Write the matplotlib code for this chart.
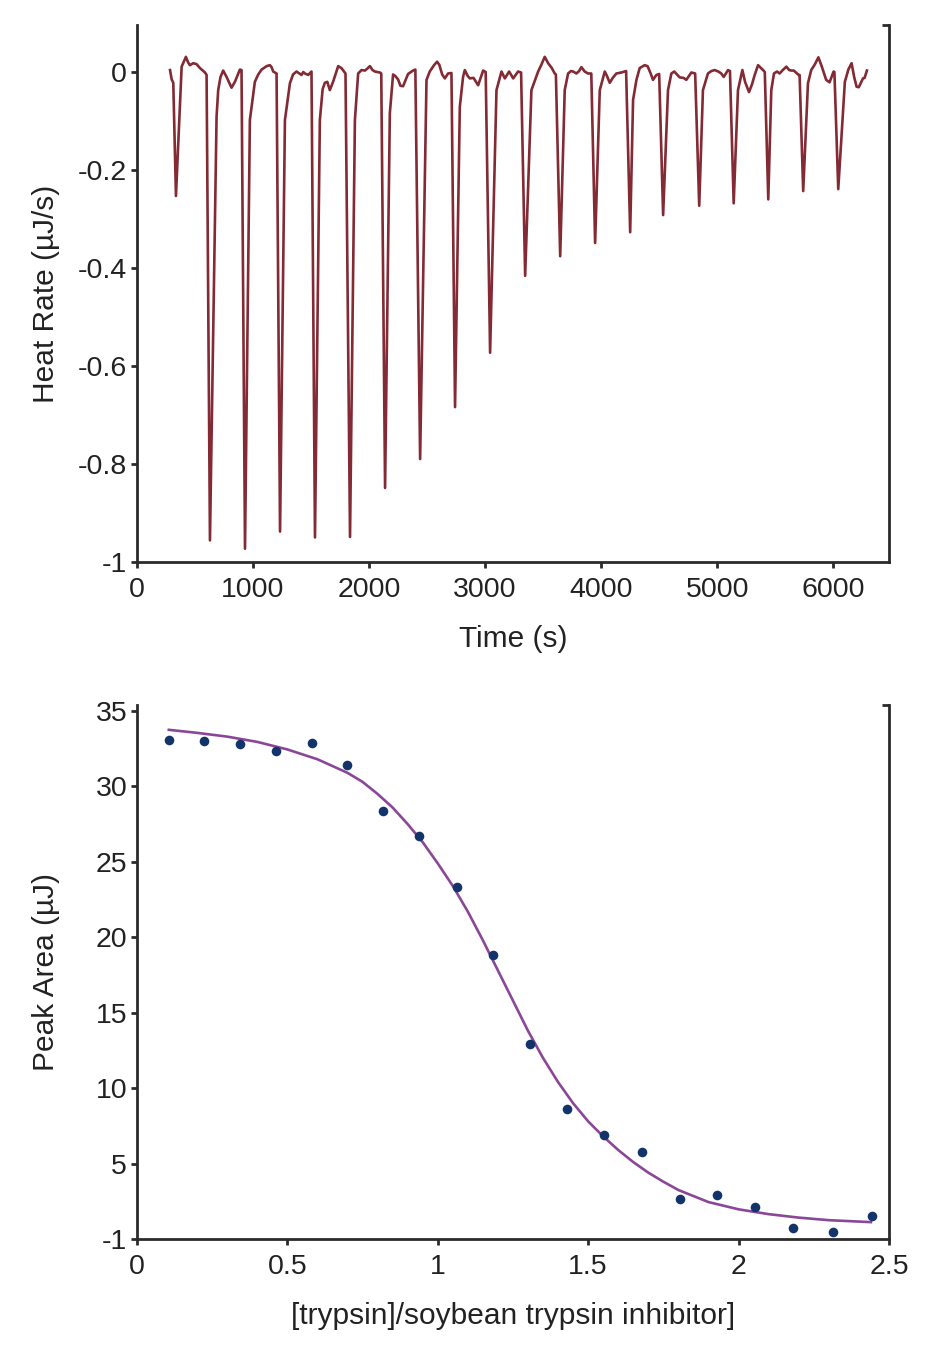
import numpy as np
import matplotlib
matplotlib.use('Agg')
import matplotlib.pyplot as plt

## ITC raw trace (time in s, heat rate in uJ/s)
trace_time = [285, 299, 313, 336, 385, 422, 440, 456, 485, 514, 543, 586, 600,
              629, 686, 700, 720, 743, 772, 815, 844, 887, 901,
              931, 973, 1016, 1045, 1074, 1117, 1145, 1160, 1174, 1203,
              1233, 1275, 1318, 1345, 1375, 1418, 1433, 1447, 1476, 1504,
              1534, 1576, 1600, 1619, 1640, 1662, 1690, 1734, 1762, 1797,
              1836, 1878, 1906, 1935, 1965, 1990, 2007, 2030, 2050, 2093, 2105,
              2138, 2179, 2207, 2225, 2250, 2270, 2293, 2336, 2379, 2399,
              2440, 2495, 2523, 2560, 2586, 2605, 2630, 2653, 2681, 2710,
              2741, 2782, 2810, 2825, 2850, 2868, 2900, 2940, 2983, 3005,
              3043, 3098, 3141, 3170, 3207, 3242, 3284, 3310,
              3345, 3399, 3440, 3457, 3485, 3514, 3543, 3575, 3600, 3610,
              3647, 3686, 3715, 3740, 3758, 3787, 3810, 3830, 3858, 3887, 3915,
              3948, 3988, 4031, 4050, 4074, 4100, 4131, 4174, 4215,
              4250, 4275, 4304, 4332, 4375, 4400, 4425, 4447, 4476, 4500,
              4534, 4576, 4605, 4630, 4650, 4677, 4710, 4734, 4777, 4810,
              4845, 4877, 4920, 4950, 4978, 5010, 5035, 5056, 5093, 5110,
              5142, 5179, 5217, 5240, 5274, 5300, 5323, 5352, 5395, 5410,
              5440, 5466, 5489, 5515, 5538, 5565, 5596, 5620, 5639, 5660, 5702, 5710,
              5741, 5782, 5810, 5840, 5872, 5900, 5939, 5968, 6003, 6010,
              6043, 6100, 6130, 6158, 6180, 6201, 6220, 6256, 6270, 6290]
trace_rate = [0.004, -0.015, -0.022, -0.253, 0.011, 0.031, 0.020, 0.014, 0.018, 0.016, 0.008, -0.001, -0.006,
              -0.956, -0.091, -0.037, -0.010, 0.003, -0.010, -0.032, -0.020, 0.005, 0.004,
              -0.973, -0.098, -0.020, -0.005, 0.005, 0.012, 0.014, 0.010, 0.001, -0.003,
              -0.938, -0.098, -0.023, -0.005, 0.001, -0.006, 0.000, -0.003, -0.006, 0.001,
              -0.950, -0.098, -0.035, -0.022, -0.020, -0.037, -0.020, 0.012, 0.008, -0.003,
              -0.949, -0.098, -0.003, 0.004, 0.003, 0.008, 0.012, 0.004, 0.001, -0.001, -0.003,
              -0.849, -0.084, -0.005, -0.008, -0.015, -0.028, -0.029, -0.004, 0.003, 0.005,
              -0.790, -0.016, 0.001, 0.014, 0.021, 0.015, -0.005, -0.013, -0.003, -0.002,
              -0.684, -0.071, -0.010, 0.004, -0.008, -0.013, -0.012, -0.027, 0.003, 0.000,
              -0.573, -0.037, 0.001, -0.013, 0.001, -0.013, 0.001, -0.001,
              -0.416, -0.037, -0.010, 0.001, 0.015, 0.031, 0.018, 0.008, -0.003, -0.005,
              -0.376, -0.037, -0.003, 0.002, 0.001, -0.003, 0.002, 0.010, 0.001, -0.003, -0.003,
              -0.349, -0.037, 0.001, -0.008, -0.022, -0.012, -0.003, -0.001, 0.002,
              -0.327, -0.057, -0.016, 0.008, 0.014, 0.012, -0.002, -0.016, -0.006, -0.004,
              -0.292, -0.037, -0.003, 0.001, -0.004, -0.011, -0.012, -0.016, -0.001, -0.003,
              -0.273, -0.037, -0.003, 0.002, 0.004, 0.001, -0.003, -0.010, 0.004, 0.002,
              -0.268, -0.037, 0.004, -0.020, -0.041, -0.025, -0.006, 0.014, 0.004, 0.000,
              -0.260, -0.037, -0.003, 0.001, -0.003, 0.004, 0.011, 0.004, 0.003, 0.003, -0.006, -0.006,
              -0.243, -0.023, 0.004, 0.015, 0.030, 0.012, -0.016, -0.021, 0.001, 0.000,
              -0.239, -0.020, 0.005, 0.018, -0.010, -0.030, -0.031, -0.013, -0.012, 0.003]

## integrated peaks
ratio = [0.106, 0.224, 0.342, 0.462, 0.582, 0.699, 0.818, 0.938, 1.063, 1.183,
         1.307, 1.430, 1.553, 1.679, 1.805, 1.928, 2.055, 2.181, 2.314, 2.443]
peak_area = [33.1, 33.0, 32.8, 32.35, 32.9, 31.45, 28.4, 26.7, 23.3, 18.8,
             12.9, 8.6, 6.9, 5.75, 2.65, 2.9, 2.12, 0.75, 0.46, 1.52]

## fitted curve, points
fit_ratio = [0.106, 0.2, 0.3, 0.4, 0.5, 0.6, 0.7, 0.75, 0.8, 0.85, 0.9, 0.95,
             1.0, 1.05, 1.1, 1.15, 1.2, 1.25, 1.3, 1.35, 1.4, 1.45, 1.5, 1.55,
             1.6, 1.65, 1.7, 1.75, 1.8, 1.9, 2.0, 2.1, 2.2, 2.3, 2.44]
fit_area = [33.75, 33.55, 33.3, 32.95, 32.45, 31.8, 30.9, 30.3, 29.5, 28.6, 27.5, 26.3,
            24.9, 23.4, 21.7, 19.8, 17.8, 15.8, 13.8, 12.0, 10.4, 9.0, 7.8, 6.8,
            5.9, 5.1, 4.4, 3.8, 3.25, 2.45, 1.97, 1.65, 1.42, 1.25, 1.12]

plt.rcParams['font.family'] = ['Liberation Sans', 'DejaVu Sans']
plt.rcParams['font.size'] = 20.5
plt.rcParams['axes.labelsize'] = 21.5
plt.rcParams['axes.unicode_minus'] = False

spine_col = '#2b2b2b'
fig = plt.figure(figsize=(9.4, 13.58), dpi=100)
ax1 = fig.add_axes([0.1457, 0.5862, 0.8, 0.3954])
ax2 = fig.add_axes([0.1457, 0.0876, 0.8, 0.3933])


def style(ax):
    ax.spines['top'].set_visible(False)
    for s in ['left', 'bottom', 'right']:
        ax.spines[s].set_color(spine_col)
        ax.spines[s].set_linewidth(2.0)
    ax.tick_params(axis='both', direction='out', length=4, width=2.0,
                   color=spine_col, labelcolor='#222222')
    ax.tick_params(axis='x', pad=7)
    ax.tick_params(axis='y', pad=3)
    ax.yaxis.set_ticks_position('left')
    ax.xaxis.set_ticks_position('bottom')
    # little cap on top of the right spine
    ax.plot([1 - 7 / 752, 1], [1, 1], transform=ax.transAxes, color=spine_col,
            lw=2.0, clip_on=False, solid_capstyle='butt')
    ax.xaxis.set_label_coords(0.5, -0.117)
    ax.yaxis.set_label_coords(-0.102, 0.5)


## top: raw heat rate
ax1.plot(trace_time, trace_rate, color='#832a34', lw=1.9)
ax1.set_xlim(0, 6480)
ax1.set_ylim(-1, 0.096)
ax1.set_xticks([0, 1000, 2000, 3000, 4000, 5000, 6000])
ax1.set_yticks([0, -0.2, -0.4, -0.6, -0.8, -1])
ax1.set_yticklabels(['0', '-0.2', '-0.4', '-0.6', '-0.8', '-1'])
ax1.set_xlabel('Time (s)', color='#222222')
ax1.set_ylabel('Heat Rate (µJ/s)', color='#222222')
style(ax1)

## bottom: peak areas and fit
ax2.plot(fit_ratio, fit_area, color='#8b4797', lw=1.9, zorder=2)
ax2.scatter(ratio, peak_area, s=48, color='#13336b', zorder=3, linewidths=0)
ax2.set_xlim(0, 2.5)
ax2.set_ylim(0, 35.4)
ax2.set_xticks([0, 0.5, 1, 1.5, 2, 2.5])
ax2.set_xticklabels(['0', '0.5', '1', '1.5', '2', '2.5'])
ax2.set_yticks([0, 5, 10, 15, 20, 25, 30, 35])
ax2.set_yticklabels(['-1', '5', '10', '15', '20', '25', '30', '35'])
ax2.set_xlabel('[trypsin]/soybean trypsin inhibitor]', color='#222222')
ax2.set_ylabel('Peak Area (µJ)', color='#222222')
style(ax2)

plt.savefig('out.png', dpi=100)
